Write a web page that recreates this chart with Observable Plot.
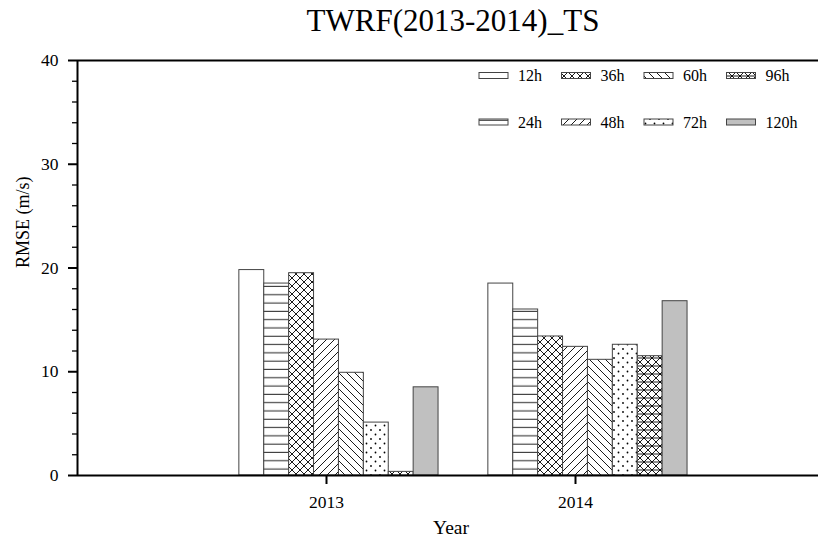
<!DOCTYPE html>
<html><head><meta charset="utf-8">
<script src="https://cdn.jsdelivr.net/npm/d3@7"></script>
<script src="https://cdn.jsdelivr.net/npm/@observablehq/plot@0.6"></script>
<style>
html,body{margin:0;padding:0;background:#fff;width:818px;height:541px;overflow:hidden;font-family:"Liberation Serif","Times New Roman",serif;}
#wrap{position:relative;width:818px;height:541px;overflow:hidden;}
#title{position:absolute;left:0;top:0;width:906px;height:50px;text-align:center;font-size:31px;line-height:42px;color:#000;white-space:nowrap;}
#chart{position:absolute;left:0;top:50px;width:824px;}
#chart svg{max-width:none !important;}
#legend{position:absolute;left:0;top:0;pointer-events:none;}
</style></head><body>
<div id="wrap"><div id="title">TWRF(2013-2014)_TS</div><div id="chart"></div><svg id="legend" width="818" height="541"></svg></div>
<script>
// ---- data ----
const years = [2013, 2014];
const horizons = ["12h", "24h", "36h", "48h", "60h", "72h", "96h", "120h"];
const rmse2013 = [19.8, 18.5, 19.5, 13.1, 9.9, 5.1, 0.35, 8.5];
const rmse2014 = [18.5, 16.0, 13.4, 12.4, 11.15, 12.6, 11.5, 16.8];
const yTicksMajor = [0, 10, 20, 30, 40];
const yTicksMinor = [2, 4, 6, 8, 12, 14, 16, 18, 22, 24, 26, 28, 32, 34, 36, 38];
const xLabel = "Year";
const yLabel = "RMSE (m/s)";
// ---- styles ----
const fills = ["#ffffff", "url(#p24)", "url(#p36)", "url(#p48)", "url(#p60)", "url(#p72)", "url(#p96)", "#c0c0c0"];

// pattern defs
const lsvg = d3.select("#legend");
const defs = lsvg.append("defs");
function pat(id, w, h, draw) {
  const p = defs.append("pattern").attr("id", id).attr("patternUnits", "userSpaceOnUse")
    .attr("width", w).attr("height", h);
  p.append("rect").attr("width", w).attr("height", h).attr("fill", "#fff");
  draw(p);
}
function path(p, d) { p.append("path").attr("d", d).attr("stroke", "#000").attr("stroke-width", 0.9).attr("fill", "none"); }
pat("p24", 8, 8.3, p => path(p, "M0,4H8"));
pat("p36", 8, 8, p => path(p, "M0,0L8,8M8,0L0,8"));
pat("p48", 8, 8, p => path(p, "M-2,2L2,-2M0,8L8,0M6,10L10,6"));
pat("p60", 8, 8, p => path(p, "M-2,6L2,10M0,0L8,8M6,-2L10,2"));
pat("p72", 9, 9, p => {
  p.append("circle").attr("cx", 2).attr("cy", 2).attr("r", 0.9).attr("fill", "#000");
  p.append("circle").attr("cx", 6.5).attr("cy", 6.5).attr("r", 0.9).attr("fill", "#000");
});
pat("p96", 8, 8, p => path(p, "M0,0L8,8M8,0L0,8M0,4H8"));

const rows = [];
years.forEach((yr, yi) => {
  const vals = yi === 0 ? rmse2013 : rmse2014;
  horizons.forEach((h, i) => rows.push({year: yr, horizon: h, i, value: vals[i], fill: fills[i]}));
});

const plot = Plot.plot({
  width: 824, height: 491,
  marginLeft: 77, marginRight: 0, marginTop: 10, marginBottom: 66,
  style: {fontFamily: "Liberation Serif, Times New Roman, serif", fontSize: "17.5px", color: "#000", background: "transparent", maxWidth: "none"},
  x: {domain: [2012, 2015]},
  y: {domain: [0, 40]},
  color: {type: "identity"},
  marks: [
    Plot.rect(rows, {x1: d => d.year - 0.35 + 0.1 * d.i, x2: d => d.year - 0.25 + 0.1 * d.i, y1: 0, y2: "value",
      fill: "fill", stroke: "#444", strokeWidth: 1}),
    Plot.ruleY([0], {stroke: "#000", strokeWidth: 2}),
    Plot.ruleY([40], {stroke: "#000", strokeWidth: 2}),
    Plot.ruleX([2012], {stroke: "#000", strokeWidth: 2}),
    Plot.axisY({ticks: yTicksMajor, tickSize: 9, tickPadding: 10, tickFormat: d => String(d), label: null,
      strokeWidth: 2, fontSize: 17.5}),
    Plot.axisY({ticks: yTicksMinor, tickSize: 5, tickFormat: () => "", label: null, strokeWidth: 1.3}),
    Plot.axisX({ticks: years, tickSize: 9, tickPadding: 11, tickFormat: d => String(d), label: null,
      strokeWidth: 2, fontSize: 17.5}),
    Plot.text([xLabel], {text: d => d, frameAnchor: "bottom", dy: 58, fontSize: 19.5}),
    Plot.text([yLabel], {text: d => d, frameAnchor: "left", dx: -54, rotate: -90, fontSize: 18})
  ]
});
document.getElementById("chart").appendChild(plot);

// legend
const lg = lsvg.append("g").attr("font-family", "Liberation Serif, Times New Roman, serif").attr("font-size", 16);
horizons.forEach((h, i) => {
  const col = Math.floor(i / 2), row = i % 2;
  const x = 479 + col * 82.5, cy = row === 0 ? 75.5 : 122;
  lg.append("rect").attr("x", x).attr("y", cy - 3).attr("width", 29).attr("height", 6)
    .attr("fill", fills[i]).attr("stroke", "#444").attr("stroke-width", 1);
  lg.append("text").attr("x", x + 39).attr("y", cy + 5.5).text(h);
});
</script>
</body></html>
